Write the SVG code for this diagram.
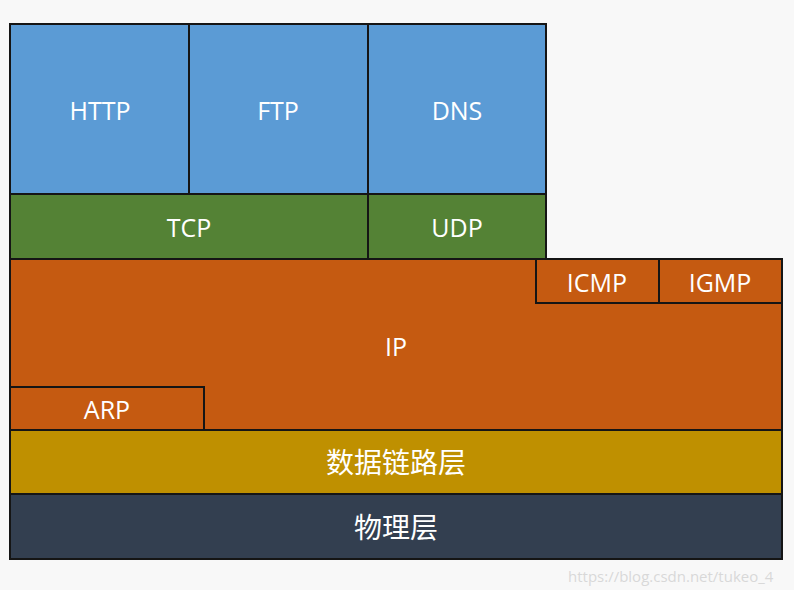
<svg xmlns="http://www.w3.org/2000/svg" width="794" height="590" viewBox="0 0 794 590">
<style>
rect{stroke:#151515;stroke-width:2}
.b{fill:#5b9bd5}.g{fill:#548235}.o{fill:#c55a11}.y{fill:#bf9000}.d{fill:#333f50}
text{fill:#fff;font-family:"Open Sans","Noto Sans CJK SC",sans-serif;font-size:25px;text-anchor:middle;dominant-baseline:central}
.zh{font-size:28px}
.wm{fill:#d8d8d8;font-size:15px;text-anchor:start}
</style>
<rect x="0" y="0" width="794" height="590" style="fill:#f8f8f8;stroke:none"/>
<g id="http"><rect class="b" x="10" y="24" width="179" height="170"/><text x="100" y="110">HTTP</text></g>
<g id="ftp"><rect class="b" x="189" y="24" width="179" height="170"/><text x="278" y="110">FTP</text></g>
<g id="dns"><rect class="b" x="368" y="24" width="178" height="170"/><text x="457" y="110">DNS</text></g>
<g id="tcp"><rect class="g" x="10" y="194" width="358" height="65"/><text x="189" y="227">TCP</text></g>
<g id="udp"><rect class="g" x="368" y="194" width="178" height="65"/><text x="457" y="227">UDP</text></g>
<g id="ip"><rect class="o" x="10" y="259" width="772" height="171"/><text x="396" y="346">IP</text></g>
<g id="icmp"><rect class="o" x="536" y="259" width="123" height="44"/><text x="597" y="282">ICMP</text></g>
<g id="igmp"><rect class="o" x="659" y="259" width="123" height="44"/><text x="720" y="282">IGMP</text></g>
<g id="arp"><rect class="o" x="10" y="387" width="194" height="43"/><text x="107" y="409">ARP</text></g>
<g id="datalink"><rect class="y" x="10" y="430" width="772" height="64"/><text class="zh" x="396" y="462">数据链路层</text></g>
<g id="physical"><rect class="d" x="10" y="494" width="772" height="65"/><text class="zh" x="396" y="527">物理层</text></g>
<g id="connectors"></g>
<text class="wm" x="568" y="576">https://blog.csdn.net/tukeo_4</text>
</svg>
